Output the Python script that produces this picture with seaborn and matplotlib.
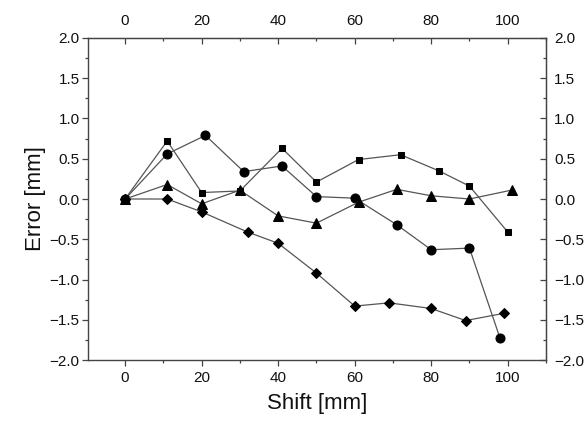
import matplotlib
matplotlib.use("Agg")
from matplotlib import pyplot as plt
from matplotlib.ticker import MultipleLocator
import pandas as pd
import seaborn as sns

# shift positions [mm] and errors [mm]
sq_x = [0, 11, 20, 30, 41, 50, 61, 72, 82, 90, 100]
sq_y = [0.0, 0.72, 0.08, 0.10, 0.63, 0.21, 0.49, 0.55, 0.35, 0.16, -0.41]

ci_x = [0, 11, 21, 31, 41, 50, 60, 71, 80, 90, 98]
ci_y = [0.0, 0.56, 0.79, 0.34, 0.41, 0.03, 0.01, -0.32, -0.63, -0.61, -1.73]

tr_x = [0, 11, 20, 30, 40, 50, 61, 71, 80, 90, 101]
tr_y = [0.0, 0.18, -0.06, 0.11, -0.21, -0.30, -0.04, 0.12, 0.04, 0.0, 0.11]

di_x = [0, 11, 20, 32, 40, 50, 60, 69, 80, 89, 99]
di_y = [0.0, 0.0, -0.16, -0.41, -0.55, -0.92, -1.33, -1.29, -1.36, -1.51, -1.42]

series = [
    ("s", 5, sq_x, sq_y),
    ("o", 6.5, ci_x, ci_y),
    ("^", 6.5, tr_x, tr_y),
    ("D", 5.5, di_x, di_y),
]

sns.set_style("ticks")
plt.rcParams["font.family"] = ["Liberation Sans", "DejaVu Sans"]

fig = plt.figure(figsize=(5.84, 4.23), dpi=100)
ax = fig.add_axes([0.1507, 0.1489, 0.7842, 0.7613])

for mk, ms, xs, ys in series:
    d = pd.DataFrame({"x": xs, "y": ys})
    sns.lineplot(data=d, x="x", y="y", ax=ax, sort=False, color="#555555",
                 linewidth=0.9, marker=mk, markersize=ms,
                 markerfacecolor="black", markeredgecolor="black")

ax.set_xlim(-9.7, 110)
ax.set_ylim(-2.0, 2.0)
ax.xaxis.set_major_locator(MultipleLocator(20))
ax.xaxis.set_minor_locator(MultipleLocator(10))
ax.yaxis.set_major_locator(MultipleLocator(0.5))
ax.yaxis.set_minor_locator(MultipleLocator(0.25))
fmt = plt.FuncFormatter(lambda v, p: f"{v:.1f}".replace("-", "\u2212"))
ax.yaxis.set_major_formatter(fmt)

ax.set_xlabel("Shift [mm]", fontsize=16, labelpad=6, color="#111111")
ax.set_ylabel("Error [mm]", fontsize=16, labelpad=3, color="#111111")

spine_c = "#444444"
for s in ax.spines.values():
    s.set_visible(True)
    s.set_color(spine_c)
    s.set_linewidth(1.0)

ax.tick_params(which="major", direction="out", length=4, width=0.9,
               color=spine_c, labelsize=11, labelcolor="#111111", pad=2)
ax.tick_params(which="minor", direction="out", length=2.5, width=0.9, color=spine_c)
ax.tick_params(axis="x", which="major", pad=4)

top = ax.secondary_xaxis("top")
top.xaxis.set_major_locator(MultipleLocator(20))
top.xaxis.set_minor_locator(MultipleLocator(10))
top.tick_params(which="major", direction="in", length=4, width=0.9,
                color=spine_c, labelsize=11, labelcolor="#111111", pad=7)
top.tick_params(which="minor", direction="in", length=2.5, width=0.9, color=spine_c)
top.spines["top"].set_color(spine_c)

right = ax.secondary_yaxis("right")
right.yaxis.set_major_locator(MultipleLocator(0.5))
right.yaxis.set_minor_locator(MultipleLocator(0.25))
right.yaxis.set_major_formatter(fmt)
right.tick_params(which="major", direction="in", length=4, width=0.9,
                  color=spine_c, labelsize=11, labelcolor="#111111", pad=6)
right.tick_params(which="minor", direction="in", length=2.5, width=0.9, color=spine_c)
right.spines["right"].set_color(spine_c)

fig.savefig("out.png", dpi=100)
